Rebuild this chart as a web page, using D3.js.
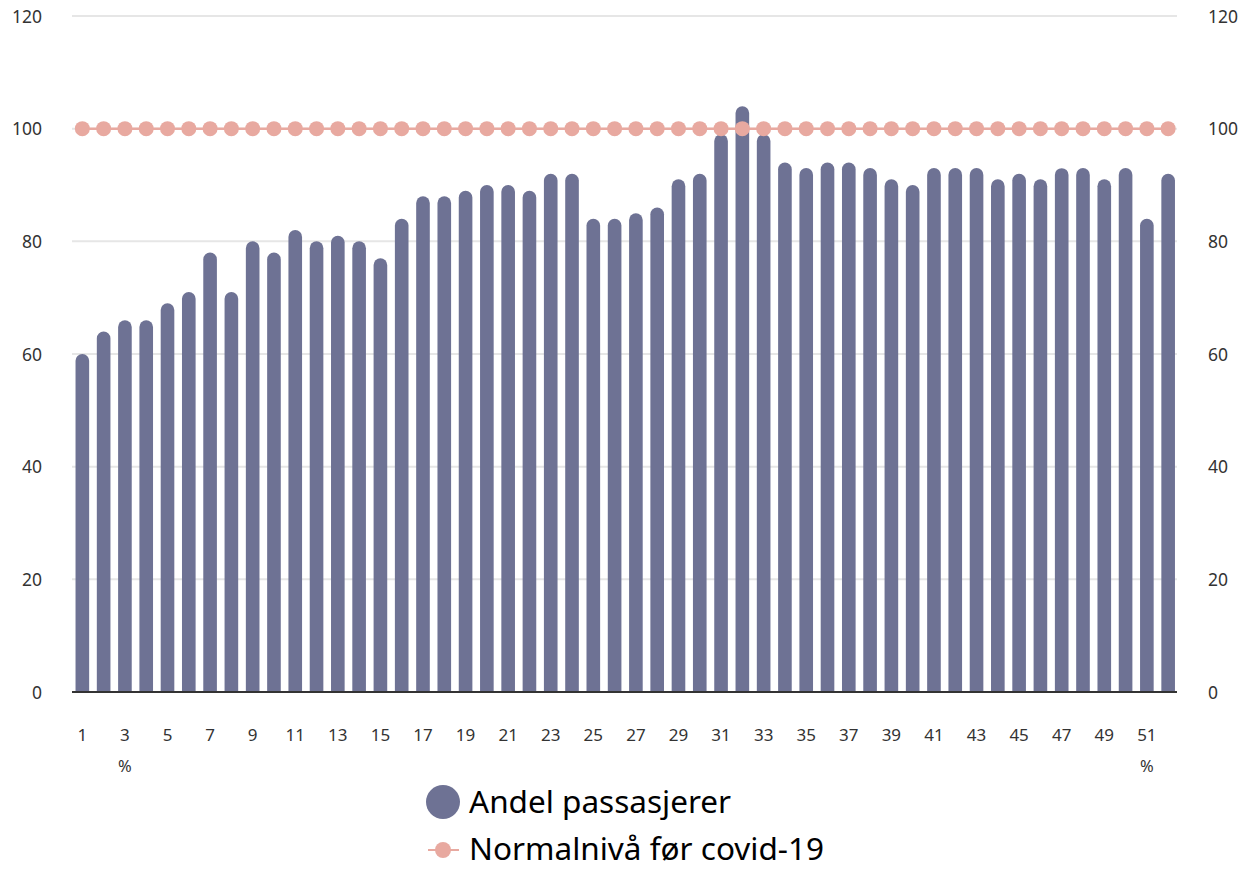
<!DOCTYPE html>
<html>
<head>
<meta charset="utf-8">
<script src="https://cdn.jsdelivr.net/npm/d3@7"></script>
<style>
  html, body { margin: 0; padding: 0; background: #fff; }
  svg { display: block; font-family: "Noto Sans", "Open Sans", sans-serif; }
</style>
</head>
<body>
<svg id="chart" width="1253" height="870"></svg>
<script>
// Weekly share of passengers (%) compared with pre-covid normal level
const weeks = d3.range(1, 53);
const andelPassasjerer = [
  60, 64, 66, 66, 69, 71, 78, 71, 80, 78,
  82, 80, 81, 80, 77, 84, 88, 88, 89, 90,
  90, 89, 92, 92, 84, 84, 85, 86, 91, 92,
  99, 104, 99, 94, 93, 94, 94, 93, 91, 90,
  93, 93, 93, 91, 92, 91, 93, 93, 91, 93,
  84, 92
];
const normalniva = weeks.map(() => 100);
const yTicks = [0, 20, 40, 60, 80, 100, 120];
const xTickLabels = weeks.filter(w => w % 2 === 1);
const seriesNames = ["Andel passasjerer", "Normalnivå før covid-19"];

const barColor = "#6e7294";
const lineColor = "#e8a9a0";
const font = "'Noto Sans', 'Open Sans', sans-serif";

const svg = d3.select("#chart");
const plot = { left: 72, right: 1178, top: 16, bottom: 692 };

const x = d3.scaleBand().domain(weeks).range([plot.left - 0.3, plot.right + 0.8]).paddingInner(0.36).paddingOuter(0.18);
const y = d3.scaleLinear().domain([0, 120]).range([plot.bottom, plot.top]);

// Gridlines
svg.append("g").selectAll("line").data(yTicks.filter(t => t > 0)).join("line")
  .attr("x1", plot.left).attr("x2", plot.right - 1)
  .attr("y1", d => y(d)).attr("y2", d => y(d))
  .attr("stroke", "#e6e6e6").attr("stroke-width", 2);

// Left and right value axes
const leftAxis = svg.append("g").attr("transform", `translate(${plot.left},0)`)
  .call(d3.axisLeft(y).tickValues(yTicks).tickSize(0).tickPadding(30));
const rightAxis = svg.append("g").attr("transform", `translate(${plot.right},0)`)
  .call(d3.axisRight(y).tickValues(yTicks).tickSize(0).tickPadding(30));
[leftAxis, rightAxis].forEach(a => {
  a.select(".domain").remove();
  a.selectAll("text").attr("font-size", 17.5).attr("fill", "#333").attr("font-family", font).attr("dy", "0.36em");
});

// Bars with rounded tops
const bw = x.bandwidth();
const r = bw / 2;
svg.append("g").selectAll("path").data(weeks).join("path")
  .attr("fill", barColor)
  .attr("d", (w, i) => {
    const x0 = x(w), x1 = x0 + bw;
    const yTop = y(andelPassasjerer[i]);
    const yb = y(0);
    return `M${x0},${yb} L${x0},${yTop + r} A${r},${r} 0 0 1 ${x1},${yTop + r} L${x1},${yb} Z`;
  });

// Baseline
svg.append("line")
  .attr("x1", plot.left).attr("x2", plot.right - 1)
  .attr("y1", y(0)).attr("y2", y(0))
  .attr("stroke", "#333").attr("stroke-width", 2);

// Category axis labels (odd weeks)
const cx = w => x(w) + bw / 2;
svg.append("g").selectAll("text").data(xTickLabels).join("text")
  .attr("x", cx).attr("y", 741)
  .attr("text-anchor", "middle").attr("font-size", 17).attr("fill", "#333")
  .text(d => d);
svg.append("g").selectAll("text").data([3, 51]).join("text")
  .attr("x", cx).attr("y", 772)
  .attr("text-anchor", "middle").attr("font-size", 16.5).attr("fill", "#333")
  .text("%");

// Normal level line with markers
const line = d3.line().x((d, i) => cx(weeks[i])).y(d => y(d));
svg.append("path").datum(normalniva)
  .attr("d", line).attr("fill", "none")
  .attr("stroke", lineColor).attr("stroke-width", 2.5);
svg.append("g").selectAll("circle").data(normalniva).join("circle")
  .attr("cx", (d, i) => cx(weeks[i])).attr("cy", d => y(d))
  .attr("r", 7.5).attr("fill", lineColor);

// Legend
const legend = svg.append("g");
legend.append("circle").attr("cx", 443).attr("cy", 802).attr("r", 17).attr("fill", barColor);
legend.append("text").attr("x", 469).attr("y", 813).attr("font-size", 31.5).attr("fill", "#000").text(seriesNames[0]);
legend.append("line").attr("x1", 428).attr("x2", 459).attr("y1", 850).attr("y2", 850)
  .attr("stroke", lineColor).attr("stroke-width", 2);
legend.append("circle").attr("cx", 443).attr("cy", 850).attr("r", 8).attr("fill", lineColor);
legend.append("text").attr("x", 469).attr("y", 860).attr("font-size", 31.5).attr("fill", "#000").text(seriesNames[1]);
</script>
</body>
</html>
